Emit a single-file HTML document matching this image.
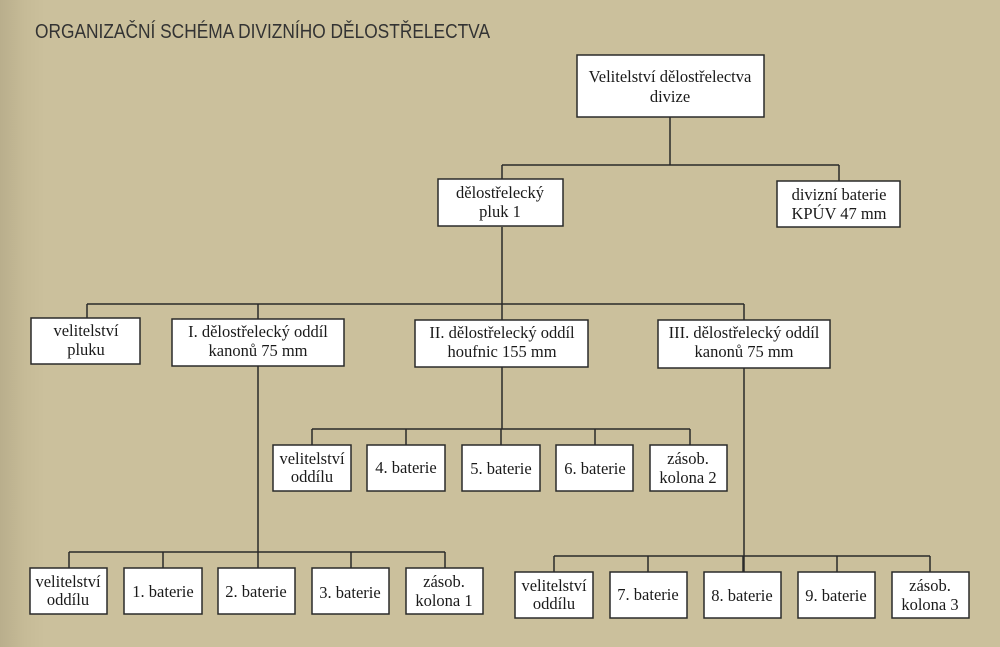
<!DOCTYPE html>
<html><head><meta charset="utf-8"><style>
html,body{margin:0;padding:0;}
body{width:1000px;height:647px;overflow:hidden;background:linear-gradient(to right,#b9ae8c 0px,#c6bb97 25px,#cbc09c 45px,#cbc09c 100%);}
svg{display:block}
</style></head><body>
<svg width="1000" height="647" xmlns="http://www.w3.org/2000/svg" font-family="Liberation Serif, serif" font-size="16.5" fill="#1a1a1a">
<text x="35" y="38" font-family="Liberation Sans, sans-serif" font-size="20" fill="#333" textLength="455" lengthAdjust="spacingAndGlyphs">ORGANIZAČNÍ SCHÉMA DIVIZNÍHO DĚLOSTŘELECTVA</text>
<g stroke="#2a2a2a" stroke-width="1.5" fill="none">
<path d="M670 117V165M502 165H839M502 165V181M839 165V181"/>
<path d="M502 227V304M87 304H744M87 304V318M258 304V319M502 304V320M744 304V320"/>
<path d="M502 367V429M312 429H690M312 429V445M406 429V445M501 429V445M595 429V445M690 429V445"/>
<path d="M258 366V568M69 552H445M69 552V568M163 552V568M258 552V568M351 552V568M445 552V568"/>
<path d="M744 368V572M554 556H930M554 556V572M648 556V572M743 556V572M837 556V572M930 556V572"/>
</g>
<g fill="#fff" stroke="#2a2a2a" stroke-width="1.5">
<rect x="577" y="55" width="187" height="62"/>
<rect x="438" y="179" width="125" height="47"/>
<rect x="777" y="181" width="123" height="46"/>
<rect x="31" y="318" width="109" height="46"/>
<rect x="172" y="319" width="172" height="47"/>
<rect x="415" y="320" width="173" height="47"/>
<rect x="658" y="320" width="172" height="48"/>
<rect x="273" y="445" width="78" height="46"/>
<rect x="367" y="445" width="78" height="46"/>
<rect x="462" y="445" width="78" height="46"/>
<rect x="556" y="445" width="77" height="46"/>
<rect x="650" y="445" width="77" height="46"/>
<rect x="30" y="568" width="77" height="46"/>
<rect x="124" y="568" width="78" height="46"/>
<rect x="218" y="568" width="77" height="46"/>
<rect x="312" y="568" width="77" height="46"/>
<rect x="406" y="568" width="77" height="46"/>
<rect x="515" y="572" width="78" height="46"/>
<rect x="610" y="572" width="77" height="46"/>
<rect x="704" y="572" width="77" height="46"/>
<rect x="798" y="572" width="77" height="46"/>
<rect x="892" y="572" width="77" height="46"/>
</g>
<g text-anchor="middle">
<text x="670" y="82">Velitelství dělostřelectva</text><text x="670" y="102">divize</text>
<text x="500" y="198">dělostřelecký</text><text x="500" y="217">pluk 1</text>
<text x="839" y="200">divizní baterie</text><text x="839" y="219">KPÚV 47 mm</text>
<text x="86" y="336">velitelství</text><text x="86" y="355">pluku</text>
<text x="258" y="337">I. dělostřelecký oddíl</text><text x="258" y="356">kanonů 75 mm</text>
<text x="502" y="338">II. dělostřelecký oddíl</text><text x="502" y="357">houfnic 155 mm</text>
<text x="744" y="338">III. dělostřelecký oddíl</text><text x="744" y="357">kanonů 75 mm</text>
<text x="312" y="464">velitelství</text><text x="312" y="482">oddílu</text>
<text x="406" y="473">4. baterie</text>
<text x="501" y="474">5. baterie</text>
<text x="595" y="474">6. baterie</text>
<text x="688" y="464">zásob.</text><text x="688" y="483">kolona 2</text>
<text x="68" y="587">velitelství</text><text x="68" y="605">oddílu</text>
<text x="163" y="597">1. baterie</text>
<text x="256" y="597">2. baterie</text>
<text x="350" y="598">3. baterie</text>
<text x="444" y="587">zásob.</text><text x="444" y="606">kolona 1</text>
<text x="554" y="591">velitelství</text><text x="554" y="609">oddílu</text>
<text x="648" y="600">7. baterie</text>
<text x="742" y="601">8. baterie</text>
<text x="836" y="601">9. baterie</text>
<text x="930" y="591">zásob.</text><text x="930" y="610">kolona 3</text>
</g>
</svg>
</body></html>
